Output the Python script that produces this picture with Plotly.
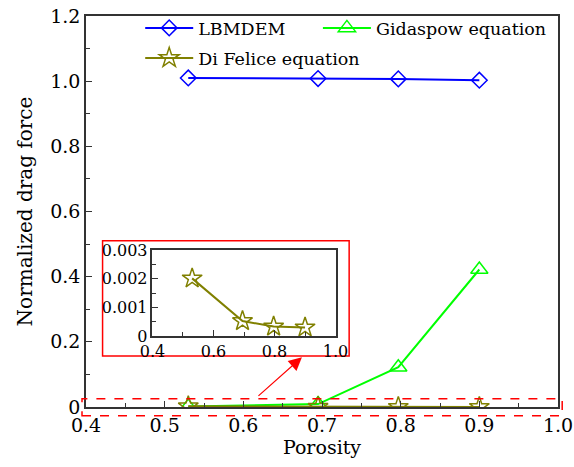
import plotly.graph_objects as go

# Porosity values of the simulated beds
porosity = [0.53, 0.695, 0.797, 0.9]

# Normalized drag force for each model
lbmdem = [1.010, 1.008, 1.007, 1.003]
gidaspow = [0.0015, 0.009, 0.122, 0.422]
di_felice = [0.00201, 0.00052, 0.00033, 0.0003]

# Tick labels
x_ticks = [0.4, 0.5, 0.6, 0.7, 0.8, 0.9, 1.0]
x_ticktext = ["0.4", "0.5", "0.6", "0.7", "0.8", "0.9", "1.0"]
y_ticks = [0, 0.2, 0.4, 0.6, 0.8, 1.0, 1.2]
y_ticktext = ["0", "0.2", "0.4", "0.6", "0.8", "1.0", "1.2"]
ix_ticks = [0.4, 0.6, 0.8, 1.0]
ix_ticktext = ["0.4", "0.6", "0.8", "1.0"]
iy_ticks = [0, 0.001, 0.002, 0.003]
iy_ticktext = ["0", "0.001", "0.002", "0.003"]

BLUE = "#0000ff"
GREEN = "#00ff00"
OLIVE = "#808000"
AXIS = "#333333"
FONT = "DejaVu Serif"

fig = go.Figure()

fig.add_trace(go.Scatter(
    x=porosity, y=lbmdem, name="LBMDEM", mode="lines+markers",
    line=dict(color=BLUE, width=2), legend="legend",
    marker=dict(symbol="diamond-open", size=12, color=BLUE, line=dict(width=1.5)),
))
fig.add_trace(go.Scatter(
    x=porosity, y=gidaspow, name="Gidaspow equation", mode="lines+markers",
    line=dict(color=GREEN, width=2), legend="legend2",
    marker=dict(symbol="triangle-up-open", size=15, color=GREEN, line=dict(width=1.5)),
))
fig.add_trace(go.Scatter(
    x=porosity, y=di_felice, name="Di Felice equation", mode="lines+markers",
    line=dict(color=OLIVE, width=2), legend="legend3",
    marker=dict(symbol="star-open", size=15, color=OLIVE, line=dict(width=1.5)),
))

# Zoomed view of the Di Felice curve
fig.add_trace(go.Scatter(
    x=porosity, y=di_felice, name="Di Felice equation (inset)", mode="lines+markers",
    xaxis="x2", yaxis="y2", showlegend=False,
    line=dict(color=OLIVE, width=2),
    marker=dict(symbol="star-open", size=15, color=OLIVE, line=dict(width=1.5)),
))

axis_common = dict(
    showline=True, linecolor=AXIS, linewidth=1.5, mirror=True,
    ticks="inside", tickcolor=AXIS, ticklen=6, tickwidth=1.2,
    showgrid=False, zeroline=False, automargin=False,
    ticklabeloverflow="allow",
)

PL, PR, PT, PB = 85.7, 558.5, 16.3, 407.3
W, H = 574, 467

def px_x(v):
    return (v - PL) / (PR - PL)

def px_y(v):
    return (PB - v) / (PB - PT)

legend_common = dict(
    orientation="v", yanchor="middle", xanchor="left",
    bgcolor="rgba(0,0,0,0)", font=dict(family=FONT, size=17.5),
    itemwidth=48, tracegroupgap=0,
)

fig.update_layout(
    width=W, height=H,
    margin=dict(l=PL, r=W - PR, t=PT, b=H - PB, autoexpand=False),
    paper_bgcolor="white", plot_bgcolor="white",
    font=dict(family=FONT, size=19, color="black"),
    xaxis=dict(
        **axis_common, range=[0.4, 1.0], tickvals=x_ticks, ticktext=x_ticktext,
        minor=dict(ticks="inside", dtick=0.05, ticklen=4, tickcolor=AXIS, tickwidth=1.2),
        tickfont=dict(family=FONT, size=19),
        title=dict(text="Porosity", font=dict(family=FONT, size=19), standoff=4),
    ),
    yaxis=dict(
        **axis_common, range=[0, 1.2], tickvals=y_ticks, ticktext=y_ticktext,
        minor=dict(ticks="inside", dtick=0.1, ticklen=4, tickcolor=AXIS, tickwidth=1.2),
        tickfont=dict(family=FONT, size=19),
        title=dict(text="Normalized drag force", font=dict(family=FONT, size=20), standoff=12),
    ),
    xaxis2=dict(
        **axis_common, anchor="y2", domain=[px_x(152.3), px_x(335.7)],
        range=[0.4, 1.0], tickvals=ix_ticks, ticktext=ix_ticktext,
        minor=dict(ticks="inside", dtick=0.1, ticklen=4, tickcolor=AXIS, tickwidth=1.2),
        tickfont=dict(family=FONT, size=16),
    ),
    yaxis2=dict(
        **axis_common, anchor="x2", domain=[px_y(336.3), px_y(250.3)],
        range=[0, 0.003], tickvals=iy_ticks, ticktext=iy_ticktext,
        minor=dict(ticks="inside", dtick=0.0005, ticklen=4, tickcolor=AXIS, tickwidth=1.2),
        tickfont=dict(family=FONT, size=16),
    ),
    legend=dict(**legend_common, x=px_x(140), y=px_y(28.3)),
    legend2=dict(**legend_common, x=px_x(318), y=px_y(28.3)),
    legend3=dict(**legend_common, x=px_x(140), y=px_y(58.3)),
    showlegend=True,
)

# Red frame around the inset and dashed frame around the near-zero region
fig.add_shape(type="rect", xref="paper", yref="paper",
              x0=px_x(102.3), x1=px_x(349.3), y0=px_y(356.3), y1=px_y(241),
              line=dict(color="red", width=1.5), fillcolor="white", layer="below")
fig.add_shape(type="rect", xref="paper", yref="paper",
              x0=px_x(81.7), x1=px_x(562.7), y0=px_y(416), y1=px_y(399),
              line=dict(color="red", width=1.5, dash="dash"), layer="above")

# Arrow pointing from the dashed region to the inset
fig.add_annotation(
    xref="paper", yref="paper", x=px_x(302), y=px_y(357.5),
    ax=-45, ay=40, axref="pixel", ayref="pixel",
    text="", showarrow=True, arrowhead=2, arrowsize=2.2, arrowwidth=1.2,
    arrowcolor="red",
)

fig.write_html("out.html")
